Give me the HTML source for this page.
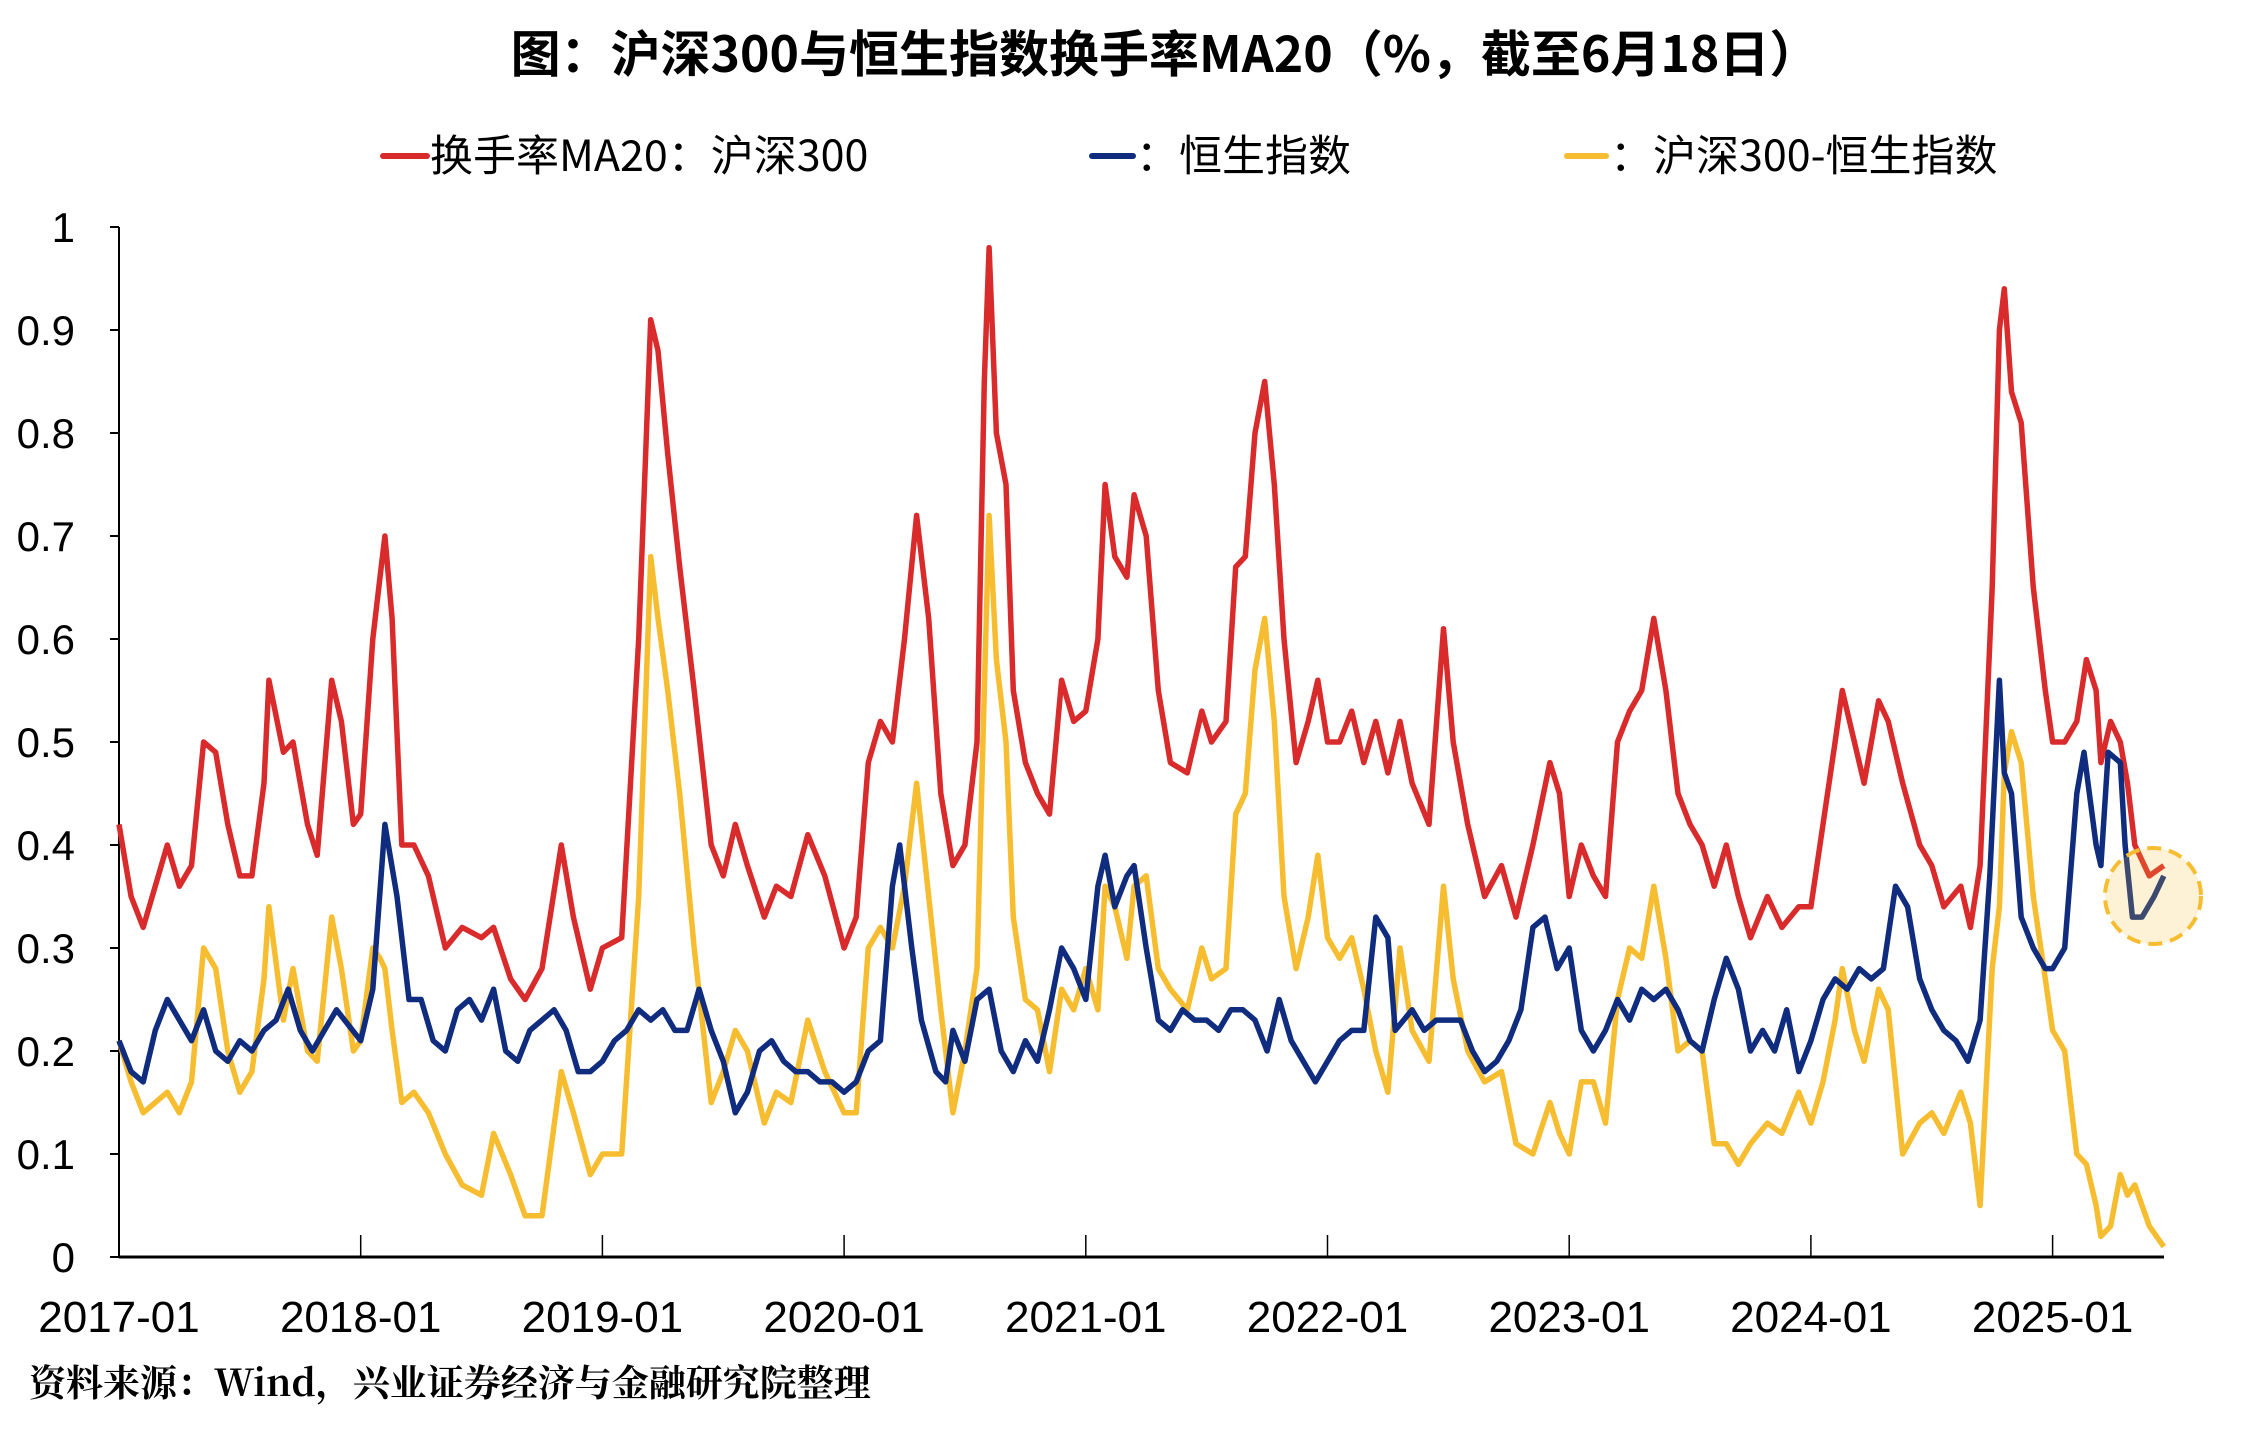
<!DOCTYPE html>
<html><head><meta charset="utf-8">
<style>
html,body{margin:0;padding:0;background:#fff;}
svg{display:block;}
text{font-family:"Liberation Sans","Noto Sans CJK SC",sans-serif;}
</style></head>
<body>
<svg id="chart" width="2265" height="1437" viewBox="0 0 2265 1437" xmlns="http://www.w3.org/2000/svg">
<rect width="2265" height="1437" fill="#fff"/>
<text x="1165" y="72" text-anchor="middle" font-size="50" font-weight="bold" style='font-family:"Noto Sans CJK SC",sans-serif'>图：沪深300与恒生指数换手率MA20（%，截至6月18日）</text>
<g>
<g>
<line x1="383" y1="156" x2="427" y2="156" stroke="#d92b2b" stroke-width="6" stroke-linecap="round"/>
<text x="430" y="171" font-size="43" style='font-family:"Noto Sans CJK SC",sans-serif'>换手率MA20：沪深300</text>
</g>
<g>
<line x1="1092" y1="156" x2="1133" y2="156" stroke="#102c7e" stroke-width="6" stroke-linecap="round"/>
<text x="1136" y="171" font-size="43" style='font-family:"Noto Sans CJK SC",sans-serif'>：恒生指数</text>
</g>
<g>
<line x1="1567" y1="156" x2="1606" y2="156" stroke="#f7bd30" stroke-width="6" stroke-linecap="round"/>
<text x="1610" y="171" font-size="43" style='font-family:"Noto Sans CJK SC",sans-serif'>：沪深300-恒生指数</text>
</g>
</g>
<g id="axes"></g>
<g id="series"></g>
<circle cx="2153" cy="896" r="48" fill="#f7bd30" fill-opacity="0.2" stroke="#f7bd30" stroke-width="4" stroke-dasharray="14 8"/>
<text x="29" y="1396" font-size="37" font-weight="bold" style='font-family:"Noto Serif CJK SC","Liberation Serif",serif'>资料来源：Wind，兴业证券经济与金融研究院整理</text>
</svg>
<script>
const yTicks=["0","0.1","0.2","0.3","0.4","0.5","0.6","0.7","0.8","0.9","1"];
const yTickValues=[0,0.1,0.2,0.3,0.4,0.5,0.6,0.7,0.8,0.9,1];
const xTickLabels=["2017-01","2018-01","2019-01","2020-01","2021-01","2022-01","2023-01","2024-01","2025-01"];
const xTickValues=[2017,2018,2019,2020,2021,2022,2023,2024,2025];

const csiDates=[2017.0,2017.05,2017.1,2017.2,2017.25,2017.3,2017.35,2017.4,2017.45,2017.5,2017.55,2017.6,2017.62,2017.68,2017.72,2017.78,2017.82,2017.88,2017.92,2017.97,2018.0,2018.05,2018.08,2018.1,2018.13,2018.17,2018.22,2018.28,2018.35,2018.42,2018.5,2018.55,2018.62,2018.68,2018.75,2018.83,2018.88,2018.95,2019.0,2019.08,2019.15,2019.2,2019.23,2019.27,2019.32,2019.38,2019.45,2019.5,2019.55,2019.6,2019.67,2019.72,2019.78,2019.85,2019.92,2020.0,2020.05,2020.1,2020.15,2020.2,2020.25,2020.3,2020.35,2020.4,2020.45,2020.5,2020.55,2020.58,2020.6,2020.63,2020.67,2020.7,2020.75,2020.8,2020.85,2020.9,2020.95,2021.0,2021.05,2021.08,2021.12,2021.17,2021.2,2021.25,2021.3,2021.35,2021.42,2021.48,2021.52,2021.58,2021.62,2021.66,2021.7,2021.74,2021.78,2021.82,2021.87,2021.92,2021.96,2022.0,2022.05,2022.1,2022.15,2022.2,2022.25,2022.3,2022.35,2022.42,2022.48,2022.52,2022.58,2022.65,2022.72,2022.78,2022.85,2022.92,2022.96,2023.0,2023.05,2023.1,2023.15,2023.2,2023.25,2023.3,2023.35,2023.4,2023.45,2023.5,2023.55,2023.6,2023.65,2023.7,2023.75,2023.82,2023.88,2023.95,2024.0,2024.05,2024.1,2024.13,2024.18,2024.22,2024.28,2024.32,2024.38,2024.45,2024.5,2024.55,2024.62,2024.66,2024.7,2024.75,2024.78,2024.8,2024.83,2024.87,2024.92,2024.97,2025.0,2025.05,2025.1,2025.14,2025.18,2025.2,2025.24,2025.28,2025.31,2025.34,2025.4,2025.46];
const csiValues=[0.42,0.35,0.32,0.40,0.36,0.38,0.50,0.49,0.42,0.37,0.37,0.46,0.56,0.49,0.50,0.42,0.39,0.56,0.52,0.42,0.43,0.60,0.66,0.70,0.62,0.40,0.40,0.37,0.30,0.32,0.31,0.32,0.27,0.25,0.28,0.40,0.33,0.26,0.30,0.31,0.60,0.91,0.88,0.78,0.67,0.55,0.40,0.37,0.42,0.38,0.33,0.36,0.35,0.41,0.37,0.30,0.33,0.48,0.52,0.50,0.60,0.72,0.62,0.45,0.38,0.40,0.50,0.85,0.98,0.80,0.75,0.55,0.48,0.45,0.43,0.56,0.52,0.53,0.60,0.75,0.68,0.66,0.74,0.70,0.55,0.48,0.47,0.53,0.50,0.52,0.67,0.68,0.80,0.85,0.75,0.60,0.48,0.52,0.56,0.50,0.50,0.53,0.48,0.52,0.47,0.52,0.46,0.42,0.61,0.50,0.42,0.35,0.38,0.33,0.40,0.48,0.45,0.35,0.40,0.37,0.35,0.50,0.53,0.55,0.62,0.55,0.45,0.42,0.40,0.36,0.40,0.35,0.31,0.35,0.32,0.34,0.34,0.42,0.50,0.55,0.50,0.46,0.54,0.52,0.46,0.40,0.38,0.34,0.36,0.32,0.38,0.65,0.90,0.94,0.84,0.81,0.65,0.55,0.50,0.50,0.52,0.58,0.55,0.48,0.52,0.50,0.46,0.40,0.37,0.38];

const hsiDates=[2017.0,2017.05,2017.1,2017.15,2017.2,2017.25,2017.3,2017.35,2017.4,2017.45,2017.5,2017.55,2017.6,2017.65,2017.7,2017.75,2017.8,2017.85,2017.9,2018.0,2018.05,2018.1,2018.15,2018.2,2018.25,2018.3,2018.35,2018.4,2018.45,2018.5,2018.55,2018.6,2018.65,2018.7,2018.75,2018.8,2018.85,2018.9,2018.95,2019.0,2019.05,2019.1,2019.15,2019.2,2019.25,2019.3,2019.35,2019.4,2019.45,2019.5,2019.55,2019.6,2019.65,2019.7,2019.75,2019.8,2019.85,2019.9,2019.95,2020.0,2020.05,2020.1,2020.15,2020.2,2020.23,2020.28,2020.32,2020.38,2020.42,2020.45,2020.5,2020.55,2020.6,2020.65,2020.7,2020.75,2020.8,2020.85,2020.9,2020.95,2021.0,2021.05,2021.08,2021.12,2021.17,2021.2,2021.25,2021.3,2021.35,2021.4,2021.45,2021.5,2021.55,2021.6,2021.65,2021.7,2021.75,2021.8,2021.85,2021.9,2021.95,2022.0,2022.05,2022.1,2022.15,2022.2,2022.25,2022.28,2022.35,2022.4,2022.45,2022.5,2022.55,2022.6,2022.65,2022.7,2022.75,2022.8,2022.85,2022.9,2022.95,2023.0,2023.05,2023.1,2023.15,2023.2,2023.25,2023.3,2023.35,2023.4,2023.45,2023.5,2023.55,2023.6,2023.65,2023.7,2023.75,2023.8,2023.85,2023.9,2023.95,2024.0,2024.05,2024.1,2024.15,2024.2,2024.25,2024.3,2024.35,2024.4,2024.45,2024.5,2024.55,2024.6,2024.65,2024.7,2024.74,2024.78,2024.8,2024.83,2024.87,2024.92,2024.97,2025.0,2025.05,2025.1,2025.13,2025.18,2025.2,2025.23,2025.28,2025.3,2025.33,2025.37,2025.42,2025.46];
const hsiValues=[0.21,0.18,0.17,0.22,0.25,0.23,0.21,0.24,0.20,0.19,0.21,0.20,0.22,0.23,0.26,0.22,0.20,0.22,0.24,0.21,0.26,0.42,0.35,0.25,0.25,0.21,0.20,0.24,0.25,0.23,0.26,0.20,0.19,0.22,0.23,0.24,0.22,0.18,0.18,0.19,0.21,0.22,0.24,0.23,0.24,0.22,0.22,0.26,0.22,0.19,0.14,0.16,0.20,0.21,0.19,0.18,0.18,0.17,0.17,0.16,0.17,0.20,0.21,0.36,0.40,0.30,0.23,0.18,0.17,0.22,0.19,0.25,0.26,0.20,0.18,0.21,0.19,0.24,0.30,0.28,0.25,0.36,0.39,0.34,0.37,0.38,0.30,0.23,0.22,0.24,0.23,0.23,0.22,0.24,0.24,0.23,0.20,0.25,0.21,0.19,0.17,0.19,0.21,0.22,0.22,0.33,0.31,0.22,0.24,0.22,0.23,0.23,0.23,0.20,0.18,0.19,0.21,0.24,0.32,0.33,0.28,0.30,0.22,0.20,0.22,0.25,0.23,0.26,0.25,0.26,0.24,0.21,0.20,0.25,0.29,0.26,0.20,0.22,0.20,0.24,0.18,0.21,0.25,0.27,0.26,0.28,0.27,0.28,0.36,0.34,0.27,0.24,0.22,0.21,0.19,0.23,0.37,0.56,0.47,0.45,0.33,0.30,0.28,0.28,0.30,0.45,0.49,0.40,0.38,0.49,0.48,0.40,0.33,0.33,0.35,0.37];

const diffDates=csiDates.slice();
const diffValues=[0.21,0.17,0.14,0.16,0.14,0.17,0.30,0.28,0.20,0.16,0.18,0.27,0.34,0.23,0.28,0.20,0.19,0.33,0.28,0.20,0.21,0.30,0.29,0.28,0.22,0.15,0.16,0.14,0.10,0.07,0.06,0.12,0.08,0.04,0.04,0.18,0.14,0.08,0.10,0.10,0.35,0.68,0.62,0.55,0.45,0.30,0.15,0.18,0.22,0.20,0.13,0.16,0.15,0.23,0.18,0.14,0.14,0.30,0.32,0.30,0.36,0.46,0.35,0.24,0.14,0.20,0.28,0.55,0.72,0.58,0.50,0.33,0.25,0.24,0.18,0.26,0.24,0.28,0.24,0.36,0.34,0.29,0.36,0.37,0.28,0.26,0.24,0.30,0.27,0.28,0.43,0.45,0.57,0.62,0.52,0.35,0.28,0.33,0.39,0.31,0.29,0.31,0.26,0.20,0.16,0.30,0.22,0.19,0.36,0.27,0.20,0.17,0.18,0.11,0.10,0.15,0.12,0.10,0.17,0.17,0.13,0.25,0.30,0.29,0.36,0.29,0.20,0.21,0.20,0.11,0.11,0.09,0.11,0.13,0.12,0.16,0.13,0.17,0.23,0.28,0.22,0.19,0.26,0.24,0.10,0.13,0.14,0.12,0.16,0.13,0.05,0.28,0.34,0.47,0.51,0.48,0.35,0.27,0.22,0.20,0.10,0.09,0.05,0.02,0.03,0.08,0.06,0.07,0.03,0.01];

const X0=119, PX_PER_YEAR=241.7, Y0=1257, PX_PER_UNIT=1030;
function xScale(t){return X0+(t-2017)*PX_PER_YEAR;}
function yScale(v){return Y0-v*PX_PER_UNIT;}
const NS="http://www.w3.org/2000/svg";
const axes=document.getElementById('axes');
const series=document.getElementById('series');
function mk(tag,attrs,parent){const e=document.createElementNS(NS,tag);for(const k in attrs)e.setAttribute(k,attrs[k]);parent.appendChild(e);return e;}

const yAxis=mk('line',{x1:X0,y1:yScale(1),x2:X0,y2:Y0,stroke:'#000','stroke-width':2},axes);


const xAxis=mk('line',{x1:X0,y1:Y0,x2:2164,y2:Y0,stroke:'#000','stroke-width':3},axes);


yTickValues.forEach((v,i)=>{
  const y=yScale(v);
  const t=mk('line',{x1:X0-9,y1:y,x2:X0,y2:y,stroke:'#000','stroke-width':2},axes);
  
  
  const lb=mk('text',{x:75,y:y+15,'text-anchor':'end','font-size':42},axes);
  lb.textContent=yTicks[i];
  
  
});
xTickValues.forEach((v,i)=>{
  const x=xScale(v);
  const t=mk('line',{x1:x,y1:Y0-22,x2:x,y2:Y0,stroke:'#000','stroke-width':1.5},axes);
  
  
  const lb=mk('text',{x:x,y:1332,'text-anchor':'middle','font-size':44},axes);
  lb.textContent=xTickLabels[i];
  
  
});
function drawLine(dates,vals,color){
  const d=dates.map((t,i)=>(i?'L':'M')+xScale(t).toFixed(1)+','+yScale(vals[i]).toFixed(1)).join(' ');
  return mk('path',{d:d,fill:'none',stroke:color,'stroke-width':5.5,'stroke-linejoin':'round'},series);
}
const pd=drawLine(diffDates,diffValues,'#f7bd30');


const pc=drawLine(csiDates,csiValues,'#d92b2b');


const ph=drawLine(hsiDates,hsiValues,'#102c7e');


</script>
</body></html>
